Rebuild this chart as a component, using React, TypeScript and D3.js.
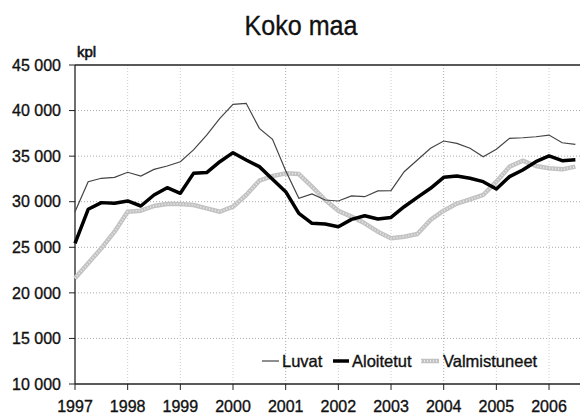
import React from 'react';
import * as d3 from 'd3';

// quarterly moving totals, 1997 Q1 .. 2006 Q3
const luvat = [
  28900, 32200, 32570, 32680, 33230, 32820, 33550, 33920, 34390, 35680,
  37300, 39150, 40690, 40800, 38050, 36840, 33400, 30370, 30850, 30190,
  30080, 30630, 30550, 31180, 31210, 33290, 34580, 35860, 36660, 36400,
  35860, 34940, 35750, 36950, 37020, 37130, 37310, 36470, 36290,
];
const aloitetut = [
  25440, 29170, 29900, 29830, 30080, 29530, 30740, 31540, 30920, 33110,
  33200, 34390, 35380, 34580, 33850, 32460, 31100, 28730, 27630, 27550,
  27260, 28060, 28460, 28100, 28280, 29450, 30480, 31470, 32680, 32820,
  32570, 32200, 31400, 32750, 33480, 34390, 35020, 34500, 34600,
];
const valmistuneet = [
  21600, 23240, 24890, 26710, 28900, 29020, 29530, 29750, 29750, 29640,
  29270, 28900, 29450, 30740, 32310, 32820, 33110, 33040, 31650, 30190,
  29000, 28370, 27630, 26710, 25980, 26160, 26460, 28000, 29020, 29800,
  30260, 30740, 32200, 33850, 34500, 33920, 33670, 33550, 33850,
];
const years = [1997, 1998, 1999, 2000, 2001, 2002, 2003, 2004, 2005, 2006];
const yTicks = [10000, 15000, 20000, 25000, 30000, 35000, 40000, 45000];

const W = 580;
const H = 416;
const font = '"Liberation Sans", Arial, sans-serif';

const App: React.FC = () => {
  const left = 75, right = 580, top = 65, bottom = 384;
  const x = d3.scaleLinear().domain([1997, 1997 + (right - left) / 52.67]).range([left, right]);
  const y = d3.scaleLinear().domain([10000, 45000]).range([bottom, top]);
  const t = (i: number) => 1997 + i / 4;

  const line = d3.line<number>()
    .x((_, i) => x(t(i)))
    .y(d => y(d));

  const fmt = (v: number) => d3.format(',')(v).replace(',', ' ');
  const ink = { fill: '#111', stroke: '#111', strokeWidth: 0.35 };

  return (
    <svg width={W} height={H} style={{ position: 'absolute', left: 0, top: 0, background: '#fff' }}
      fontFamily={font}>
      <text x={301} y={35} textAnchor="middle" fontSize={28} textLength={113}
        lengthAdjust="spacingAndGlyphs" {...ink}>Koko maa</text>
      <text x={77} y={57} fontSize={15} {...ink} strokeWidth={0.6}>kpl</text>

      {/* grid */}
      {yTicks.filter(v => v > 10000 && v < 45000).map(v => (
        <line key={v} x1={left} x2={right} y1={y(v)} y2={y(v)}
          stroke="#aaa" strokeWidth={1} strokeDasharray="1,2" />
      ))}
      {years.filter(v => v > 1997).map(v => (
        <line key={v} x1={x(v)} x2={x(v)} y1={top} y2={bottom}
          stroke={v === 2001 || v === 2004 ? '#aaa' : '#ccc'} strokeWidth={1} strokeDasharray="1,2" />
      ))}

      {/* axes */}
      <line x1={left} x2={right} y1={top} y2={top} stroke="#222" strokeWidth={1.3} />
      <line x1={left} x2={left} y1={top} y2={bottom} stroke="#222" strokeWidth={1.3} />
      <line x1={left} x2={right} y1={bottom} y2={bottom} stroke="#222" strokeWidth={1.3} />
      {yTicks.map(v => (
        <g key={v}>
          <line x1={left - 6} x2={left} y1={y(v)} y2={y(v)} stroke="#222" />
          <text x={61} y={y(v)} dy="0.36em" textAnchor="end" fontSize={16} {...ink}>{fmt(v)}</text>
        </g>
      ))}
      {years.map(v => (
        <g key={v}>
          <line x1={x(v)} x2={x(v)} y1={bottom} y2={bottom + 6} stroke="#222" />
          <text x={x(v)} y={412} textAnchor="middle" fontSize={16} {...ink}>{v}</text>
        </g>
      ))}

      {/* series */}
      <path d={line(valmistuneet) || ''} fill="none" stroke="#c2c2c2" strokeWidth={4.5} strokeLinejoin="round" />
      <path d={line(valmistuneet) || ''} fill="none" stroke="#e8e8e8" strokeWidth={2} strokeDasharray="1,2" />
      <path d={line(luvat) || ''} fill="none" stroke="#444" strokeWidth={1.2} />
      <path d={line(aloitetut) || ''} fill="none" stroke="#000" strokeWidth={3.5} strokeLinejoin="round" />

      {/* legend */}
      <line x1={262} x2={279} y1={361} y2={361} stroke="#444" strokeWidth={1.2} />
      <text x={282} y={367} fontSize={16.5} {...ink}>Luvat</text>
      <line x1={333} x2={349} y1={361} y2={361} stroke="#000" strokeWidth={3.5} />
      <text x={352} y={367} fontSize={16.5} {...ink}>Aloitetut</text>
      <line x1={421} x2={439} y1={361} y2={361} stroke="#c2c2c2" strokeWidth={4.5} />
      <line x1={421} x2={439} y1={361} y2={361} stroke="#e8e8e8" strokeWidth={2} strokeDasharray="1,2" />
      <text x={443} y={367} fontSize={16.5} {...ink}>Valmistuneet</text>
    </svg>
  );
};

export default App;
